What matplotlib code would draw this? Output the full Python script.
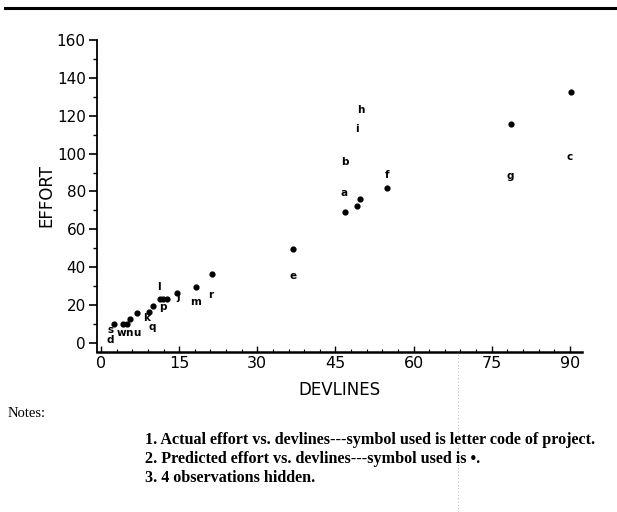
import matplotlib
matplotlib.use("Agg")
import matplotlib.pyplot as plt
from matplotlib.lines import Line2D
from matplotlib.ticker import MultipleLocator

# actual effort, labelled by project letter code
proj_codes = ["s", "d", "w", "n", "u", "k", "q", "p", "l", "j", "m", "r",
              "e", "a", "b", "f", "i", "h", "g", "c"]
actual_devlines = [1.9, 1.7, 4.0, 5.4, 6.8, 8.8, 9.8, 11.9, 11.1, 14.8, 18.2, 21.1,
                   36.9, 46.6, 46.8, 54.9, 49.1, 49.9, 78.5, 90.0]
actual_effort = [6.8, 1.6, 5.3, 5.3, 5.3, 13.2, 8.4, 19.0, 29.6, 24.3, 21.6, 25.3,
                 35.4, 79.2, 95.6, 88.7, 113.0, 123.0, 88.2, 98.2]

# predicted effort (dots)
pred_devlines = [2.5, 4.2, 5.0, 5.6, 6.9, 9.2, 10.0, 11.3, 11.9, 12.7, 14.6, 18.2,
                 21.3, 36.9, 46.8, 49.1, 49.7, 54.9, 78.7, 90.2]
pred_effort = [10.0, 10.0, 10.0, 12.7, 15.8, 16.4, 19.5, 23.2, 23.2, 23.2, 26.4, 29.6,
               36.4, 49.6, 69.2, 72.3, 76.0, 81.8, 115.6, 132.5]

x_ticks = [0, 15, 30, 45, 60, 75, 90]
y_ticks = [0, 20, 40, 60, 80, 100, 120, 140, 160]

notes = [
    "1. Actual effort vs. devlines---symbol used is letter code of project.",
    "2. Predicted effort vs. devlines---symbol used is \u2022.",
    "3. 4 observations hidden.",
]

fig = plt.figure(figsize=(6.17, 5.12), dpi=100)
ax = fig.add_axes([0.157, 0.3125, 0.786, 0.6095])

ax.scatter(pred_devlines, pred_effort, s=12, color="black", zorder=3)
for code, xv, yv in zip(proj_codes, actual_devlines, actual_effort):
    ax.text(xv, yv, code, ha="center", va="center", fontsize=7.5,
            fontweight="bold", family="DejaVu Sans")

ax.set_xlim(-0.8, 92.3)
ax.set_ylim(-4.75, 160)
ax.set_xticks(x_ticks)
ax.set_yticks(y_ticks)
ax.xaxis.set_minor_locator(MultipleLocator(3))
ax.yaxis.set_minor_locator(MultipleLocator(10))

for side in ["top", "right"]:
    ax.spines[side].set_visible(False)
ax.spines["bottom"].set_linewidth(1.8)
ax.spines["left"].set_linewidth(1.3)

ax.tick_params(axis="x", direction="in", length=4, width=1, labelsize=11.5, pad=3)
ax.tick_params(axis="x", which="minor", direction="in", length=2, width=0.8)
ax.tick_params(axis="y", direction="out", length=6, width=1.2, labelsize=11, pad=2)
ax.tick_params(axis="y", which="minor", direction="out", length=3, width=1)

ax.set_xlabel("DEVLINES", fontsize=12, labelpad=7)
ax.set_ylabel("EFFORT", fontsize=12, labelpad=1)

# rule across the top of the page
fig.add_artist(Line2D([0.008, 1.0], [0.984, 0.984], color="black", lw=2.2,
                      transform=fig.transFigure))
# faint scan crease
fig.add_artist(Line2D([0.742, 0.742], [0.0, 0.31], color="0.6", lw=0.6,
                      ls=(0, (1, 3)), transform=fig.transFigure))

fig.text(0.013, 0.186, "Notes:", fontsize=10.5, family="Liberation Serif")
for i, line in enumerate(notes):
    fig.text(0.235, 0.133 - i * 0.037, line, fontsize=11.6,
             family="Liberation Serif", fontweight="bold")

fig.savefig("out.png", dpi=100)
